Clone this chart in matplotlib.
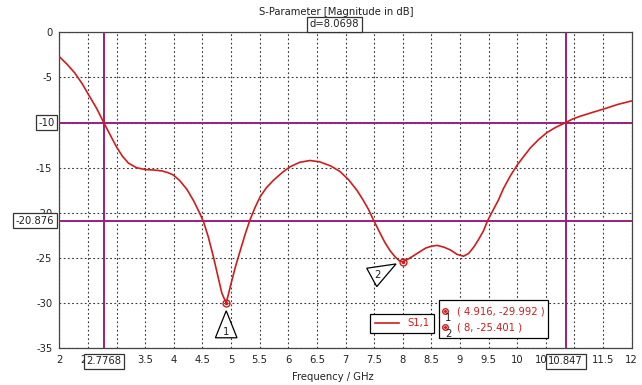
import matplotlib

matplotlib.use("Agg")
import matplotlib.pyplot as plt
import matplotlib.transforms as mtransforms
from matplotlib.lines import Line2D
from matplotlib.patches import Polygon, Rectangle

# S1,1
freq = [2.0, 2.13, 2.27, 2.4, 2.51, 2.65, 2.7768, 2.9, 3.0, 3.1, 3.21, 3.35,
        3.5, 3.65, 3.79, 3.9, 3.99, 4.1, 4.23, 4.35, 4.45, 4.52, 4.6, 4.69,
        4.77, 4.84, 4.916, 5.01, 5.08, 5.16, 5.25, 5.33, 5.42, 5.51, 5.62, 5.74,
        5.9, 6.03, 6.2, 6.38, 6.55, 6.74, 6.9, 7.05, 7.2, 7.31, 7.4, 7.49,
        7.6, 7.69, 7.78, 7.87, 7.94, 8.0, 8.1, 8.25, 8.4, 8.5, 8.6, 8.72,
        8.83, 8.95, 9.06, 9.15, 9.24, 9.32, 9.41, 9.48, 9.57, 9.67, 9.76, 9.88,
        10.0, 10.12, 10.23, 10.37, 10.52, 10.68, 10.847, 10.97, 11.1, 11.3, 11.51, 11.75,
        12.0]
s11 = [-2.7, -3.5, -4.5, -5.7, -6.9, -8.4, -10.0, -11.5, -12.7, -13.7, -14.5, -15.0,
       -15.2, -15.25, -15.35, -15.55, -15.8, -16.4, -17.4, -18.7, -20.0, -21.0, -22.6, -24.8,
       -27.0, -28.9, -29.992, -27.6, -25.9, -24.2, -22.3, -20.8, -19.4, -18.2, -17.2, -16.4,
       -15.5, -14.9, -14.4, -14.2, -14.35, -14.8, -15.4, -16.3, -17.5, -18.6, -19.6, -20.8,
       -22.2, -23.3, -24.2, -24.9, -25.3, -25.401, -25.1, -24.5, -23.9, -23.7, -23.6, -23.8,
       -24.1, -24.6, -24.8, -24.5, -23.8, -23.0, -22.0, -20.9, -19.8, -18.6, -17.3, -15.9,
       -14.7, -13.7, -12.8, -11.9, -11.1, -10.5, -10.0, -9.6, -9.3, -8.9, -8.5, -8.0,
       -7.6]

marker_f = [4.916, 8.0]
marker_db = [-29.992, -25.401]
cursor_f = [2.7768, 10.847]
cursor_db = [-10.0, -20.876]
delta_f = 8.0698

xticks = [2, 2.5, 3, 3.5, 4, 4.5, 5, 5.5, 6, 6.5, 7, 7.5, 8, 8.5, 9, 9.5, 10, 10.5, 11, 11.5, 12]
yticks = [0, -5, -10, -15, -20, -25, -30, -35]

RED = "#d01c1c"
PURPLE = "#9a1f80"
FS = 7.2

W, H = 642, 385


def fxy(x, y):
    # pixel position -> figure fraction
    return x / W, 1 - y / H


fig = plt.figure(figsize=(6.42, 3.85), dpi=100)
ax = fig.add_axes([59.3 / W, 1 - 348.3 / H, (631.7 - 59.3) / W, (348.3 - 32.3) / H])
ax.set_xlim(2, 12)
ax.set_ylim(-35, 0)
ax.set_xticks(xticks)
ax.set_xticklabels([f"{t:g}" for t in xticks])
ax.set_yticks(yticks)
ax.set_yticklabels([f"{t:g}" for t in yticks])
ax.tick_params(length=0, labelsize=FS, colors="#222222", pad=5)
ax.grid(True, color="#3a3a3a", linestyle=(0, (1.6, 2.2)), linewidth=0.8)
for sp in ax.spines.values():
    sp.set_color("#444444")
    sp.set_linewidth(0.9)

for f in cursor_f:
    ax.axvline(f, color=PURPLE, linewidth=1.4, zorder=3)
for d in cursor_db:
    ax.axhline(d, color=PURPLE, linewidth=1.4, zorder=3)

ax.plot(freq, s11, color=RED, linewidth=1.2, zorder=4, label="S1,1")
ax.plot(marker_f, marker_db, linestyle="none", marker="o", markersize=5,
        markerfacecolor="none", markeredgecolor=RED, markeredgewidth=1.0, zorder=5)
ax.plot(marker_f, marker_db, linestyle="none", marker="o", markersize=1.5,
        color=RED, zorder=5)

# marker triangles (offsets in inches from the marked point)
tri_shapes = [
    [(0, -0.077), (-0.108, -0.347), (0.108, -0.347)],
    [(-0.36, -0.066), (-0.067, -0.023), (-0.26, -0.25)],
]
tri_text = [(-0.005, -0.29), (-0.255, -0.135)]
for i, (f, d) in enumerate(zip(marker_f, marker_db)):
    tr = fig.dpi_scale_trans + mtransforms.ScaledTranslation(f, d, ax.transData)
    ax.add_patch(Polygon(tri_shapes[i], closed=True, facecolor="white", edgecolor="black",
                         linewidth=0.9, transform=tr, clip_on=False, zorder=6))
    ax.text(tri_text[i][0], tri_text[i][1], str(i + 1), transform=tr, fontsize=FS,
            ha="center", va="center", color="#222222", zorder=7)

box = dict(boxstyle="square,pad=0.25", facecolor="white", edgecolor="#333333", linewidth=0.9)
for d in cursor_db:
    ax.annotate(f"{d:g}", xy=(0, d), xycoords=("axes fraction", "data"),
                xytext=(-5, 0), textcoords="offset pixels", ha="right", va="center",
                fontsize=FS, color="#222222", bbox=box, zorder=8, annotation_clip=False)
for f in cursor_f:
    ax.annotate(f"{f:g}", xy=(f, 0), xycoords=("data", "axes fraction"),
                xytext=(0, -13), textcoords="offset pixels", ha="center", va="center",
                fontsize=FS, color="#222222", bbox=box, zorder=8, annotation_clip=False)
ax.annotate(f"d={delta_f:g}", xy=(sum(cursor_f) / 2, 1), xycoords=("data", "axes fraction"),
            xytext=(0, 8), textcoords="offset pixels", ha="center", va="center",
            fontsize=FS, color="#222222", bbox=box, zorder=8, annotation_clip=False)

fig.text(*fxy(336, 12), "S-Parameter [Magnitude in dB]", ha="center", va="center",
         fontsize=FS, color="#222222")
fig.text(*fxy(333, 377), "Frequency / GHz", ha="center", va="center",
         fontsize=FS, color="#222222")

leg = ax.legend(loc="center", bbox_to_anchor=fxy(402, 323), bbox_transform=fig.transFigure,
                fontsize=FS, labelcolor=RED, fancybox=False, framealpha=1,
                edgecolor="black", handlelength=2.4, borderpad=0.45, handletextpad=0.8)
leg.get_frame().set_linewidth(0.9)
leg.set_zorder(9)

# marker readout box
x0, y0 = fxy(439, 338)
x1, y1 = fxy(548, 300)
fig.add_artist(Rectangle((x0, y0), x1 - x0, y1 - y0, transform=fig.transFigure,
                         facecolor="white", edgecolor="black", linewidth=0.9, zorder=9))
for i, (f, d) in enumerate(zip(marker_f, marker_db)):
    ypx = 311 + 16 * i
    fig.add_artist(Line2D([fxy(445, ypx)[0]], [fxy(445, ypx)[1]], marker="o", markersize=4,
                          markerfacecolor="none", markeredgecolor=RED, markeredgewidth=1.0,
                          transform=fig.transFigure, zorder=10))
    fig.add_artist(Line2D([fxy(445, ypx)[0]], [fxy(445, ypx)[1]], marker="o", markersize=1.2,
                          color=RED, transform=fig.transFigure, zorder=10))
    fig.text(*fxy(448, ypx + 7), str(i + 1), ha="center", va="center", fontsize=FS,
             color="#222222", zorder=10)
    fig.text(*fxy(457, ypx), f"( {f:g}, {d:g} )", ha="left", va="center", fontsize=FS,
             color=RED, zorder=10)

fig.savefig("out.png", dpi=100)
